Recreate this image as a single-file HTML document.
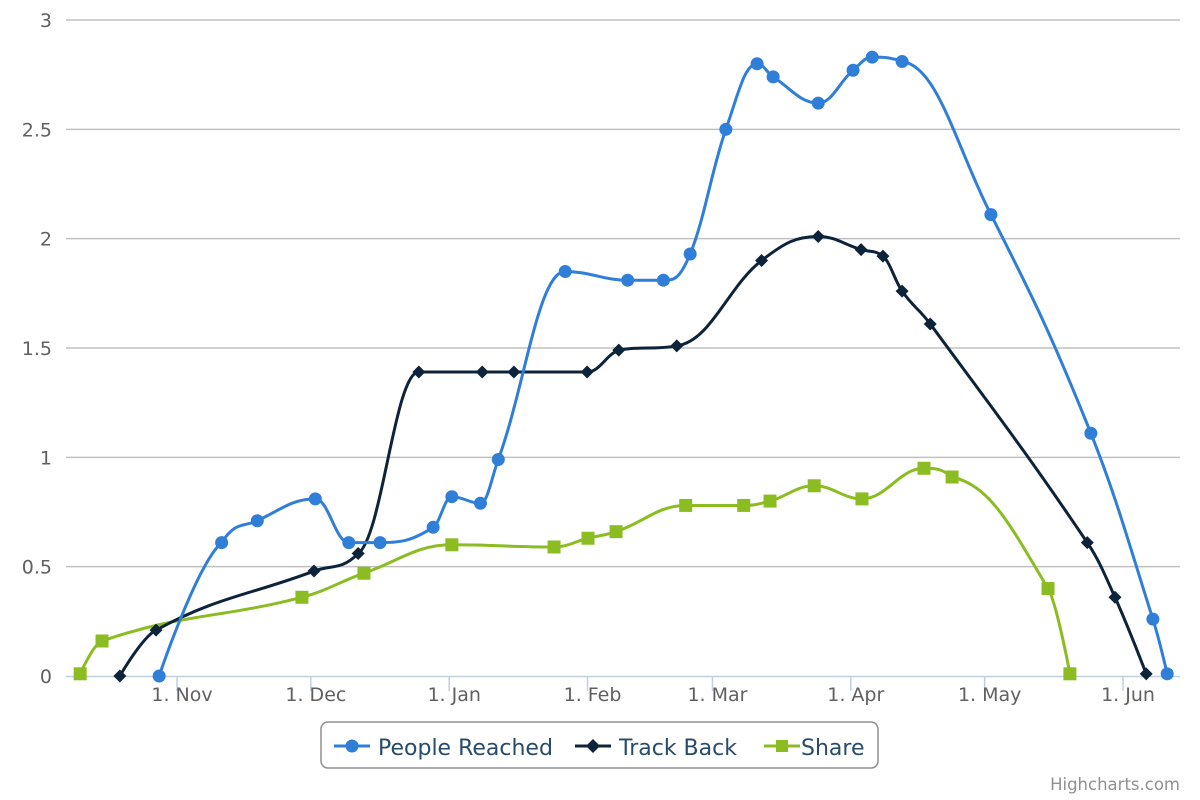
<!DOCTYPE html>
<html><head><meta charset="utf-8"><style>
html,body{margin:0;padding:0;background:#fff;}
svg{display:block;font-family:"DejaVu Sans","Liberation Sans",sans-serif;}
</style></head><body>
<svg id="chart" width="1200" height="800" viewBox="0 0 1200 800" xmlns="http://www.w3.org/2000/svg">
<rect x="0" y="0" width="1200" height="800" fill="#fff"/>
<g id="grid"></g><g id="axes"></g><g id="series"></g>
<g id="legend">
<rect x="321" y="722" width="557" height="46" rx="7" fill="#fff" stroke="#909090" stroke-width="1.5"/>
<g>
<line x1="334" y1="746" x2="370" y2="746" stroke="#2f7ed8" stroke-width="3"/><circle cx="352" cy="746" r="6.5" fill="#2f7ed8"/>
<text x="378" y="755" font-size="22" fill="#274b6d">People Reached</text></g>
<g>
<line x1="575" y1="746" x2="611" y2="746" stroke="#0d233a" stroke-width="3"/><path d="M593 739 L600 746 L593 753 L586 746Z" fill="#0d233a"/>
<text x="619" y="755" font-size="22" fill="#274b6d">Track Back</text></g>
<g>
<line x1="764" y1="746" x2="800" y2="746" stroke="#8bbc21" stroke-width="3"/><rect x="776" y="740" width="12" height="12" fill="#8bbc21"/>
<text x="801" y="755" font-size="22" fill="#274b6d">Share</text></g>
</g>
<text x="1180" y="790" text-anchor="end" font-size="16.5" fill="#909090">Highcharts.com</text>
</svg>
<script>
// days relative to 1 Nov
const peopleDays=[-4,10,18,31,38.5,45.5,57.4,61.6,68,72,87,101,109,115,123,130,133.6,143.7,151.5,155.8,162.5,182.4,204.8,218.7,221.9];
const peopleVals=[0,0.61,0.71,0.81,0.61,0.61,0.68,0.82,0.79,0.99,1.85,1.81,1.81,1.93,2.50,2.80,2.74,2.62,2.77,2.83,2.81,2.11,1.11,0.26,0.01];
const trackDays=[-12.8,-4.7,30.7,40.6,54.2,68.4,75.5,91.9,99,112,131,143.7,153.3,158.2,162.5,168.8,204,210.2,217.2];
const trackVals=[0,0.21,0.48,0.56,1.39,1.39,1.39,1.39,1.49,1.51,1.90,2.01,1.95,1.92,1.76,1.61,0.61,0.36,0.01];
const shareDays=[-21.7,-16.8,28,41.9,61.6,84.5,92.1,98.4,114,127,132.9,142.8,153.5,167.4,173.7,195.2,200.1];
const shareVals=[0.01,0.16,0.36,0.47,0.60,0.59,0.63,0.66,0.78,0.78,0.80,0.87,0.81,0.95,0.91,0.40,0.01];
const xTickDays=[0,30,61,92,120,151,181,212];
const xTickLabels=["1. Nov","1. Dec","1. Jan","1. Feb","1. Mar","1. Apr","1. May","1. Jun"];
const yTicks=[0,0.5,1,1.5,2,2.5,3];
const yTickLabels=["0","0.5","1","1.5","2","2.5","3"];

const NS="http://www.w3.org/2000/svg";
const L=66,R=1180,Y0=676,Y3=20;
const xs=d=>177+d*(946/212);
const ys=v=>Y0-(v/3)*(Y0-Y3);
function mk(tag,attrs,parent){const e=document.createElementNS(NS,tag);for(const k in attrs)e.setAttribute(k,attrs[k]);parent.appendChild(e);return e;}
const grid=document.getElementById('grid'),axes=document.getElementById('axes'),ser=document.getElementById('series');
yTicks.forEach((v,i)=>{
  if(v>0){const g=mk('line',{x1:L,x2:R,y1:ys(v),y2:ys(v),stroke:'#c0c0c0','stroke-width':1.5},grid);
  
  }
  const t=mk('text',{x:52,y:ys(v)+7,'text-anchor':'end','font-size':19,fill:'#606060'},axes);
  t.textContent=yTickLabels[i];
  
  
});
const ax=mk('line',{x1:L,x2:R,y1:Y0+0.5,y2:Y0+0.5,stroke:'#c0d0e0','stroke-width':1.5},axes);


xTickDays.forEach((d,i)=>{
  const tk=mk('line',{x1:xs(d),x2:xs(d),y1:Y0,y2:Y0+15,stroke:'#c0d0e0','stroke-width':1.5},axes);
  
  
  const t=mk('text',{x:xs(d)+5,y:Y0+25,'text-anchor':'middle','font-size':19,fill:'#606060'},axes);
  t.textContent=xTickLabels[i];
  
  
});
function spline(pts){
  const sm=1.5,den=2.5;let d='M'+pts[0][0]+' '+pts[0][1];
  const ctrl=[];
  for(let i=0;i<pts.length;i++){
    const [x,y]=pts[i];
    if(i===0||i===pts.length-1){ctrl.push({lx:x,ly:y,rx:x,ry:y});continue;}
    const [px,py]=pts[i-1],[nx,ny]=pts[i+1];
    let lx=(sm*x+px)/den,ly=(sm*y+py)/den,rx=(sm*x+nx)/den,ry=(sm*y+ny)/den;
    if(rx!==lx){const c=((ry-ly)*(rx-x))/(rx-lx)+y-ry;ly+=c;ry+=c;}
    if(ly>py&&ly>y){ly=Math.max(py,y);ry=2*y-ly;}else if(ly<py&&ly<y){ly=Math.min(py,y);ry=2*y-ly;}
    if(ry>ny&&ry>y){ry=Math.max(ny,y);ly=2*y-ry;}else if(ry<ny&&ry<y){ry=Math.min(ny,y);ly=2*y-ry;}
    ctrl.push({lx,ly,rx,ry});
  }
  for(let i=1;i<pts.length;i++){
    d+=` C${ctrl[i-1].rx} ${ctrl[i-1].ry} ${ctrl[i].lx} ${ctrl[i].ly} ${pts[i][0]} ${pts[i][1]}`;
  }
  return d;
}
function series(days,vals,color,marker,name){
  const g=mk('g',{},ser);
  
  
  const pts=days.map((d,i)=>[xs(d),ys(vals[i])]);
  const p=mk('path',{d:spline(pts),fill:'none',stroke:color,'stroke-width':3,'stroke-linejoin':'round'},g);
  
  
  pts.forEach(([x,y])=>{
    let m;
    if(marker==='circle')m=mk('circle',{cx:x,cy:y,r:6.5,fill:color},g);
    else if(marker==='diamond')m=mk('path',{d:`M${x} ${y-6.5}L${x+6.5} ${y}L${x} ${y+6.5}L${x-6.5} ${y}Z`,fill:color},g);
    else m=mk('rect',{x:x-6.5,y:y-6.5,width:13,height:13,fill:color},g);
    
    
  });
}
series(shareDays,shareVals,'#8bbc21','square','share');
series(trackDays,trackVals,'#0d233a','diamond','track-back');
series(peopleDays,peopleVals,'#2f7ed8','circle','people-reached');
</script>
</body></html>
